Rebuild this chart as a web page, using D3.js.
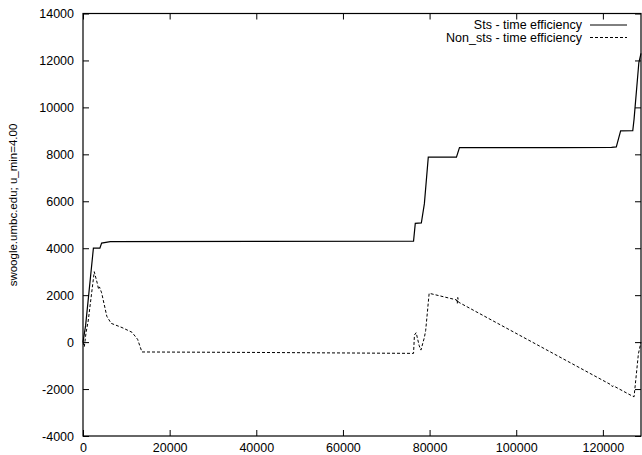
<!DOCTYPE html>
<html>
<head>
<meta charset="utf-8">
<script src="https://cdnjs.cloudflare.com/ajax/libs/d3/7.8.5/d3.min.js"></script>
<style>
  body { margin: 0; background: #fff; }
  text { font-family: "Liberation Sans", Arial, sans-serif; font-size: 12.5px; fill: #000; }
</style>
</head>
<body>
<div id="chart"></div>
<script>
// series: [x, y]
let stsData = [
  [0, 0], [600, 700], [2400, 4000], [3900, 4000], [4300, 4220], [6300, 4280],
  [40000, 4290], [76300, 4300], [76700, 5060], [78100, 5080], [78800, 5900],
  [79700, 7880], [86200, 7880], [86900, 8290], [110000, 8290], [122000, 8300],
  [123100, 8320], [124100, 9000], [126900, 9010], [127200, 9500], [128300, 11900],
  [128800, 12300]
];

let nonStsData = [
  [0, 0], [300, -200], [700, 400], [1200, 900], [2600, 3000], [3300, 2500],
  [3600, 2250], [3800, 2350], [4300, 2100], [5500, 1100], [6500, 800], [9000, 620],
  [11300, 420], [12600, 120], [13600, -420], [40000, -440], [76300, -480],
  [76500, 300], [76900, 400], [77600, -150], [78000, -340], [78800, 200],
  [79100, 500], [79900, 2080], [86200, 1800], [86400, 1650], [86500, 1900],
  [86700, 1700], [122000, -1830], [122200, -1900], [122400, -1860], [126800, -2300],
  [127200, -2330], [128200, -500], [128800, 0]
];

let xTicks = [0, 20000, 40000, 60000, 80000, 100000, 120000];
let yTicks = [-4000, -2000, 0, 2000, 4000, 6000, 8000, 10000, 12000, 14000];
let seriesNames = ["Sts - time efficiency", "Non_sts - time efficiency"];
let yLabel = "swoogle.umbc.edu; u_min=4.00";

let width = 642,
    height = 455;

let plotLeft = 83, plotRight = 641, plotTop = 13.5, plotBottom = 436;

let svg = d3.select("#chart").append("svg")
    .attr("width", width)
    .attr("height", height);

let x = d3.scaleLinear()
    .domain([0, 128800])
    .range([plotLeft, plotRight]);

let y = d3.scaleLinear()
    .domain([-4000, 14000])
    .range([plotBottom, plotTop]);

// plain hyphen minus like gnuplot
let fmt = d => String(d);

// inward ticks on all four sides
let axisG = svg.append("g");

axisG.append("g")
  .attr("transform", "translate(0," + plotBottom + ")")
  .call(d3.axisBottom(x).tickValues(xTicks).tickSize(-6).tickPadding(7).tickFormat(fmt));

axisG.append("g")
  .attr("transform", "translate(0," + plotTop + ")")
  .call(d3.axisTop(x).tickValues(xTicks).tickSize(-6).tickFormat(""));

axisG.append("g")
  .attr("transform", "translate(" + plotLeft + ",0)")
  .call(d3.axisLeft(y).tickValues(yTicks).tickSize(-6).tickPadding(9).tickFormat(fmt));

axisG.append("g")
  .attr("transform", "translate(" + plotRight + ",0)")
  .call(d3.axisRight(y).tickValues(yTicks).tickSize(-6).tickFormat(""));

axisG.selectAll(".domain").remove();
axisG.selectAll(".tick line").attr("stroke", "#000");
axisG.selectAll(".tick text")
  .style("font-family", "'Liberation Sans', Arial, sans-serif")
  .style("font-size", "12.5px")
  .attr("fill", "#000");

svg.append("rect")
  .attr("x", plotLeft)
  .attr("y", plotTop)
  .attr("width", plotRight - plotLeft)
  .attr("height", plotBottom - plotTop)
  .attr("fill", "none")
  .attr("stroke", "#000")
  .attr("stroke-width", 1.2);

svg.append("text")
  .attr("transform", "translate(17,205) rotate(-90)")
  .attr("text-anchor", "middle")
  .style("font-size", "11.5px")
  .text(yLabel);

let line = d3.line()
    .x(d => x(d[0]))
    .y(d => y(d[1]));

svg.append("path")
  .datum(nonStsData)
  .attr("d", line)
  .attr("fill", "none")
  .attr("stroke", "#000")
  .attr("stroke-width", 1)
  .attr("stroke-dasharray", "3,2");

svg.append("path")
  .datum(stsData)
  .attr("d", line)
  .attr("fill", "none")
  .attr("stroke", "#000")
  .attr("stroke-width", 1.2);

// legend
let legend = svg.append("g");
seriesNames.forEach((name, i) => {
  let ly = 25 + i * 12.5;
  legend.append("text")
    .attr("x", 582)
    .attr("y", ly + 4)
    .attr("text-anchor", "end")
    .text(name);
  legend.append("line")
    .attr("x1", 590)
    .attr("x2", 627)
    .attr("y1", ly)
    .attr("y2", ly)
    .attr("stroke", "#000")
    .attr("stroke-width", 1)
    .attr("stroke-dasharray", i == 1 ? "3,2" : null);
});
</script>
</body>
</html>
